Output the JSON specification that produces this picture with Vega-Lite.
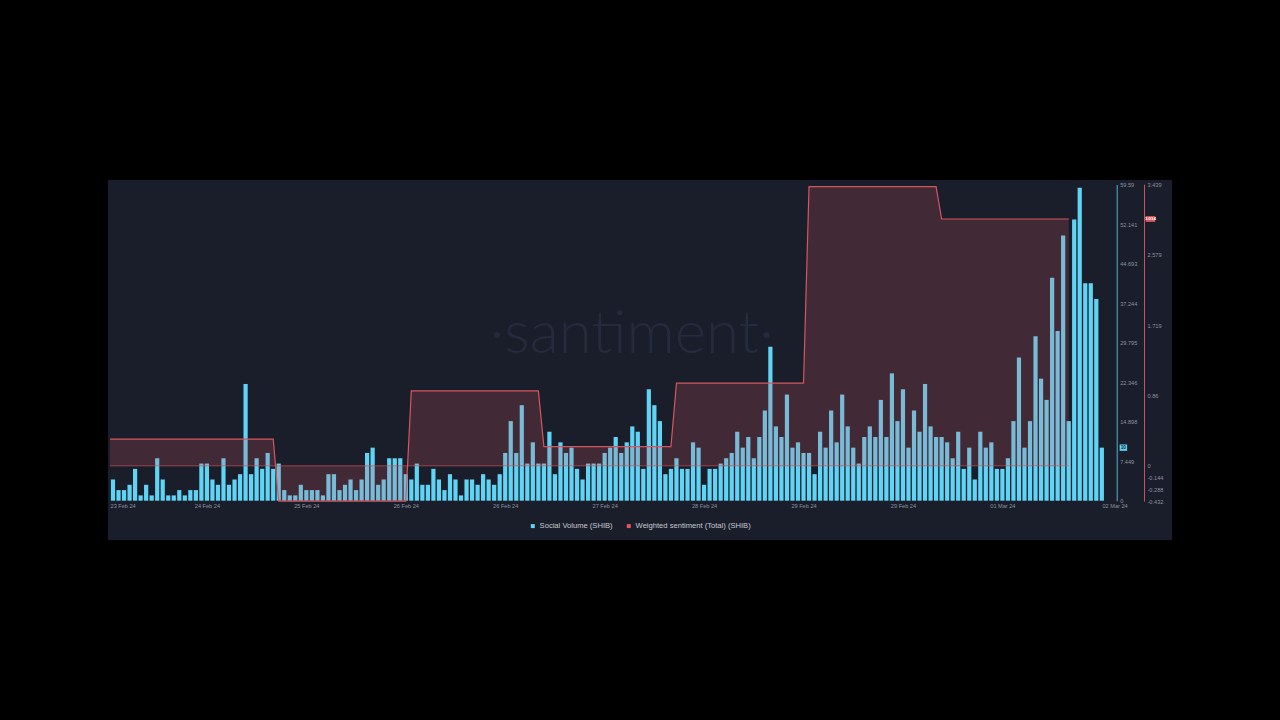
{
  "$schema": "https://vega.github.io/schema/vega-lite/v6.json",
  "width": 1064,
  "height": 360,
  "autosize": {"type": "none"},
  "padding": {"left": 108, "top": 180, "right": 108, "bottom": 180},
  "background": "#000000",
  "config": {
    "view": {"fill": "#1a1e2b", "stroke": null},
    "font": "Liberation Sans",
    "axis": {"grid": false, "ticks": false, "labelFont": "Liberation Sans", "labelFontSize": 5.6, "labelColor": "#8e939f", "labelOverlap": false, "labelBound": false}
  },
  "datasets": {
    "volume": [
      {"i":0,"v":4},{"i":1,"v":2},{"i":2,"v":2},{"i":3,"v":3},{"i":4,"v":6},{"i":5,"v":1},{"i":6,"v":3},{"i":7,"v":1},{"i":8,"v":8},{"i":9,"v":4},
      {"i":10,"v":1},{"i":11,"v":1},{"i":12,"v":2},{"i":13,"v":1},{"i":14,"v":2},{"i":15,"v":2},{"i":16,"v":7},{"i":17,"v":7},{"i":18,"v":4},{"i":19,"v":3},
      {"i":20,"v":8},{"i":21,"v":3},{"i":22,"v":4},{"i":23,"v":5},{"i":24,"v":22},{"i":25,"v":5},{"i":26,"v":8},{"i":27,"v":6},{"i":28,"v":9},{"i":29,"v":6},
      {"i":30,"v":7},{"i":31,"v":2},{"i":32,"v":1},{"i":33,"v":1},{"i":34,"v":3},{"i":35,"v":2},{"i":36,"v":2},{"i":37,"v":2},{"i":38,"v":1},{"i":39,"v":5},
      {"i":40,"v":5},{"i":41,"v":2},{"i":42,"v":3},{"i":43,"v":4},{"i":44,"v":2},{"i":45,"v":4},{"i":46,"v":9},{"i":47,"v":10},{"i":48,"v":3},{"i":49,"v":4},
      {"i":50,"v":8},{"i":51,"v":8},{"i":52,"v":8},{"i":53,"v":5},{"i":54,"v":4},{"i":55,"v":7},{"i":56,"v":3},{"i":57,"v":3},{"i":58,"v":6},{"i":59,"v":4},
      {"i":60,"v":2},{"i":61,"v":5},{"i":62,"v":4},{"i":63,"v":1},{"i":64,"v":4},{"i":65,"v":4},{"i":66,"v":3},{"i":67,"v":5},{"i":68,"v":4},{"i":69,"v":3},
      {"i":70,"v":5},{"i":71,"v":9},{"i":72,"v":15},{"i":73,"v":9},{"i":74,"v":18},{"i":75,"v":7},{"i":76,"v":11},{"i":77,"v":7},{"i":78,"v":7},{"i":79,"v":13},
      {"i":80,"v":5},{"i":81,"v":11},{"i":82,"v":9},{"i":83,"v":10},{"i":84,"v":6},{"i":85,"v":4},{"i":86,"v":7},{"i":87,"v":7},{"i":88,"v":7},{"i":89,"v":9},
      {"i":90,"v":10},{"i":91,"v":12},{"i":92,"v":9},{"i":93,"v":11},{"i":94,"v":14},{"i":95,"v":13},{"i":96,"v":6},{"i":97,"v":21},{"i":98,"v":18},{"i":99,"v":15},
      {"i":100,"v":5},{"i":101,"v":6},{"i":102,"v":8},{"i":103,"v":6},{"i":104,"v":6},{"i":105,"v":11},{"i":106,"v":10},{"i":107,"v":3},{"i":108,"v":6},{"i":109,"v":6},
      {"i":110,"v":7},{"i":111,"v":8},{"i":112,"v":9},{"i":113,"v":13},{"i":114,"v":10},{"i":115,"v":12},{"i":116,"v":8},{"i":117,"v":12},{"i":118,"v":17},{"i":119,"v":29},
      {"i":120,"v":14},{"i":121,"v":12},{"i":122,"v":20},{"i":123,"v":10},{"i":124,"v":11},{"i":125,"v":9},{"i":126,"v":9},{"i":127,"v":5},{"i":128,"v":13},{"i":129,"v":10},
      {"i":130,"v":17},{"i":131,"v":11},{"i":132,"v":20},{"i":133,"v":14},{"i":134,"v":10},{"i":135,"v":7},{"i":136,"v":12},{"i":137,"v":14},{"i":138,"v":12},{"i":139,"v":19},
      {"i":140,"v":12},{"i":141,"v":24},{"i":142,"v":15},{"i":143,"v":21},{"i":144,"v":10},{"i":145,"v":17},{"i":146,"v":13},{"i":147,"v":22},{"i":148,"v":14},{"i":149,"v":12},
      {"i":150,"v":12},{"i":151,"v":11},{"i":152,"v":8},{"i":153,"v":13},{"i":154,"v":6},{"i":155,"v":10},{"i":156,"v":4},{"i":157,"v":13},{"i":158,"v":10},{"i":159,"v":11},
      {"i":160,"v":6},{"i":161,"v":6},{"i":162,"v":8},{"i":163,"v":15},{"i":164,"v":27},{"i":165,"v":10},{"i":166,"v":15},{"i":167,"v":31},{"i":168,"v":23},{"i":169,"v":19},
      {"i":170,"v":42},{"i":171,"v":32},{"i":172,"v":50},{"i":173,"v":15},{"i":174,"v":53},{"i":175,"v":59},{"i":176,"v":41},{"i":177,"v":41},{"i":178,"v":38},{"i":179,"v":10}
    ],
    "sentiment": [
      {"i":-0.54,"s":0.325},{"i":29,"s":0.325},{"i":30,"s":-0.432},{"i":53,"s":-0.432},
      {"i":54,"s":0.915},{"i":77,"s":0.915},{"i":78,"s":0.235},{"i":101,"s":0.235},
      {"i":102,"s":1.009},{"i":125,"s":1.009},{"i":126,"s":3.41},{"i":149,"s":3.41},
      {"i":150,"s":3.014},{"i":173,"s":3.014}
    ]
  },
  "layer": [
    {
      "layer": [
        {
          "data": {"values": [{"label": "·santiment·"}]},
          "mark": {"type": "text", "font": "Lato", "fontWeight": 300, "fontSize": 60, "color": "#252b3c", "baseline": "alphabetic", "align": "center"},
          "encoding": {
            "text": {"field": "label"},
            "x": {"datum": 93.9, "type": "quantitative"},
            "y": {"datum": 27.8, "type": "quantitative"}
          }
        },
        {
          "data": {"name": "volume"},
          "mark": {"type": "bar", "size": 4.2},
          "encoding": {
            "x": {
              "field": "i", "type": "quantitative",
              "scale": {"domain": [-0.54, 182], "range": [2.02, 1010.4], "nice": false, "zero": false, "padding": 0},
              "axis": {
                "title": null, "offset": -39.3, "domain": false, "labelPadding": 3,
                "values": [-0.54, 17, 35, 53, 71, 89, 107, 125, 143, 161, 181.3],
                "labelExpr": "datum.value < 0 ? '23 Feb 24' : datum.value < 20 ? '24 Feb 24' : datum.value < 40 ? '25 Feb 24' : datum.value < 80 ? '26 Feb 24' : datum.value < 100 ? '27 Feb 24' : datum.value < 110 ? '28 Feb 24' : datum.value < 150 ? '29 Feb 24' : datum.value < 170 ? '01 Mar 24' : '02 Mar 24'"
              }
            },
            "y": {
              "field": "v", "type": "quantitative",
              "scale": {"domain": [0, 59.59], "range": [320.7, 4.5], "nice": false, "zero": false},
              "axis": {
                "title": null, "orient": "right", "offset": -55.3, "labelPadding": 3,
                "domainColor": "#4fb3cf", "domainWidth": 1,
                "values": [0, 7.449, 14.898, 22.346, 29.795, 37.244, 44.693, 52.141, 59.59],
                "labelExpr": "'' + datum.value"
              }
            },
            "color": {
              "datum": "Social Volume (SHIB)", "type": "nominal",
              "scale": {"domain": ["Social Volume (SHIB)", "Weighted sentiment (Total) (SHIB)"], "range": ["#5fd4f4", "#e0565f"]},
              "legend": {
                "title": null, "orient": "none", "legendX": 421, "legendY": 342, "direction": "horizontal",
                "symbolType": "square", "symbolSize": 16, "symbolOpacity": 1, "symbolStrokeWidth": 0,
                "labelFont": "Liberation Sans", "labelFontSize": 7.6, "labelColor": "#c7cad2",
                "labelOffset": 3, "columnPadding": 12
              }
            }
          }
        },
        {
          "data": {"values": [{"label": "10", "v": 10}]},
          "mark": {"type": "point", "shape": "M-1,-0.85L1,-0.85L1,0.85L-1,0.85Z", "size": 56, "filled": true, "fill": "#5fd4f4", "opacity": 1, "strokeWidth": 0},
          "encoding": {
            "x": {"datum": 182.9, "type": "quantitative"},
            "y": {"field": "v", "type": "quantitative"}
          }
        },
        {
          "data": {"values": [{"label": "10", "v": 10}]},
          "mark": {"type": "text", "fontSize": 4.8, "fontWeight": "bold", "color": "#1a1e2b", "align": "center", "baseline": "middle"},
          "encoding": {
            "text": {"field": "label"},
            "x": {"datum": 182.9, "type": "quantitative"},
            "y": {"field": "v", "type": "quantitative"}
          }
        }
      ]
    },
    {
      "layer": [
        {
          "data": {"name": "sentiment"},
          "mark": {"type": "area", "opacity": 1, "fillOpacity": 0.2},
          "encoding": {
            "x": {"field": "i", "type": "quantitative"},
            "y": {
              "field": "s", "type": "quantitative",
              "scale": {"domain": [-0.432, 3.439], "range": [321.2, 4.2], "nice": false, "zero": false},
              "axis": {
                "title": null, "orient": "right", "offset": -28, "labelPadding": 3,
                "domainColor": "#c8525a", "domainWidth": 1,
                "values": [-0.432, -0.288, -0.144, 0, 0.86, 1.719, 2.579, 3.439],
                "labelExpr": "'' + datum.value"
              }
            },
            "y2": {"datum": 0},
            "color": {"datum": "Weighted sentiment (Total) (SHIB)", "type": "nominal"}
          }
        },
        {
          "data": {"name": "sentiment"},
          "mark": {"type": "rule", "color": "#c8525a", "opacity": 0.7, "strokeWidth": 1},
          "encoding": {
            "x": {"aggregate": "min", "field": "i", "type": "quantitative"},
            "x2": {"aggregate": "max", "field": "i"},
            "y": {"datum": 0, "type": "quantitative"}
          }
        },
        {
          "data": {"name": "sentiment"},
          "mark": {"type": "line", "color": "#d4575f", "strokeWidth": 1.2},
          "encoding": {
            "x": {"field": "i", "type": "quantitative"},
            "y": {"field": "s", "type": "quantitative"}
          }
        },
        {
          "data": {"values": [{"label": "3.014", "s": 3.014}]},
          "mark": {"type": "point", "shape": "M-1,-0.6L1,-0.6L1,0.6L-1,0.6Z", "size": 92, "filled": true, "fill": "#e0565f", "opacity": 1, "strokeWidth": 0},
          "encoding": {
            "x": {"datum": 187.8, "type": "quantitative"},
            "y": {"field": "s", "type": "quantitative"}
          }
        },
        {
          "data": {"values": [{"label": "3.014", "s": 3.014}]},
          "mark": {"type": "text", "fontSize": 4.4, "fontWeight": "bold", "color": "#ffffff", "align": "center", "baseline": "middle"},
          "encoding": {
            "text": {"field": "label"},
            "x": {"datum": 187.8, "type": "quantitative"},
            "y": {"field": "s", "type": "quantitative"}
          }
        }
      ]
    }
  ],
  "resolve": {"scale": {"y": "independent"}}
}
